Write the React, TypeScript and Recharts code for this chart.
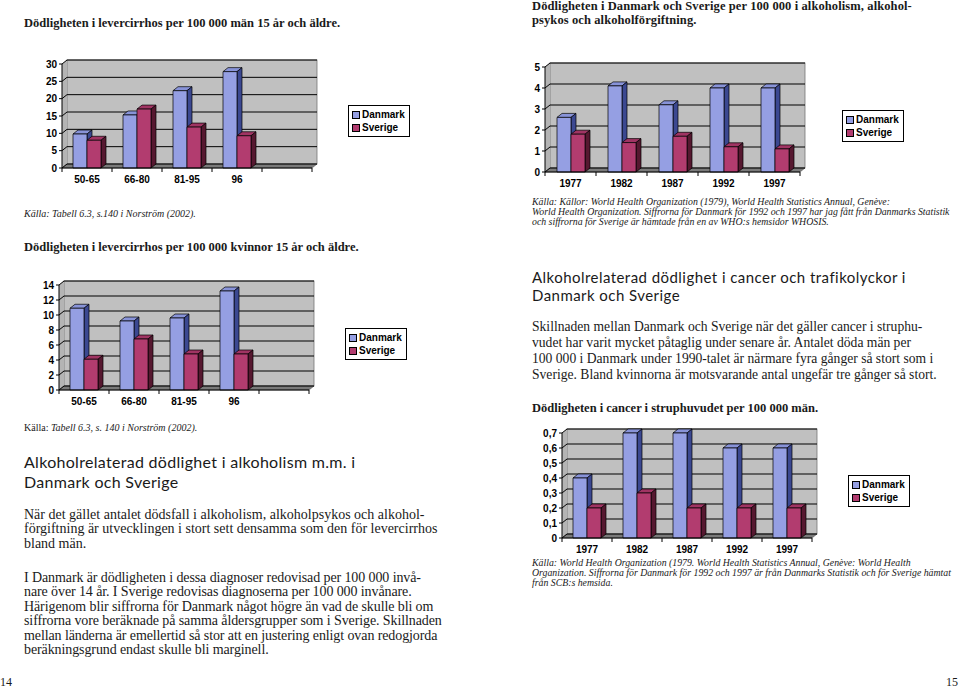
import React from 'react';
import { BarChart, Bar, XAxis, YAxis, ReferenceArea, Legend } from 'recharts';

// levercirrhos, män
const menCategories = ['50-65', '66-80', '81-95', '96', ''];
const menDanmark = [9.8, 15.3, 22.3, 27.8, null];
const menSverige = [8, 17, 11.8, 9.3, null];
const menTicks = [0, 5, 10, 15, 20, 25, 30];

// levercirrhos, kvinnor
const womenCategories = ['50-65', '66-80', '81-95', '96', ''];
const womenDanmark = [10.9, 9.2, 9.6, 13.2, null];
const womenSverige = [4.1, 6.8, 4.8, 4.8, null];
const womenTicks = [0, 2, 4, 6, 8, 10, 12, 14];

// alkoholism m.m.
const alcYears = ['1977', '1982', '1987', '1992', '1997'];
const alcDanmark = [2.6, 4.1, 3.2, 4.0, 4.0];
const alcSverige = [1.8, 1.4, 1.7, 1.2, 1.1];
const alcTicks = [0, 1, 2, 3, 4, 5];

// cancer i struphuvudet
const cancerYears = ['1977', '1982', '1987', '1992', '1997'];
const cancerDanmark = [0.4, 0.7, 0.7, 0.6, 0.6];
const cancerSverige = [0.2, 0.3, 0.2, 0.2, 0.2];
const cancerTicks = [0, 0.1, 0.2, 0.3, 0.4, 0.5, 0.6, 0.7];

const DX = 5;
const DY = 4;
const DK = { face: '#959fe3', top: '#8893d8', side: '#3b4891' };
const SE = { face: '#b23c6f', top: '#a03463', side: '#561830' };
const AXIS_FONT = { fontFamily: '"Liberation Sans", Arial, sans-serif', fontSize: 10, fontWeight: 700, fill: '#000' };

const Bar3D = (props: any) => {
  const { x, y, width, height, c } = props;
  if (height == null || !(height > 0)) return null;
  return (
    <g stroke="#000" strokeWidth={0.7} strokeLinejoin="round">
      <polygon points={`${x},${y} ${x + DX},${y - DY} ${x + width + DX},${y - DY} ${x + width},${y}`} fill={c.top} />
      <polygon points={`${x + width},${y} ${x + width + DX},${y - DY} ${x + width + DX},${y + height - DY} ${x + width},${y + height}`} fill={c.side} />
      <rect x={x} y={y} width={width} height={height} fill={c.face} />
    </g>
  );
};

const wallShape = (ticks: number[]) => (p: any) => {
  const { x, y, width: w, height: h } = p;
  const max = ticks[ticks.length - 1];
  return (
    <g>
      <rect x={x + DX} y={y - DY} width={w} height={h} fill="#c0c0c0" stroke="#777" strokeWidth={0.8} />
      <polygon points={`${x},${y} ${x + DX},${y - DY} ${x + DX},${y + h - DY} ${x},${y + h}`} fill="#b4b4b4" />
      <polygon points={`${x},${y + h} ${x + DX},${y + h - DY} ${x + w + DX},${y + h - DY} ${x + w},${y + h}`} fill="#7a7a7a" stroke="#555" strokeWidth={0.6} />
      {ticks.map((t) => {
        const yy = y + h * (1 - t / max);
        return (
          <polyline key={t} points={`${x},${yy} ${x + DX},${yy - DY} ${x + w + DX},${yy - DY}`} fill="none" stroke="#000" strokeWidth={1} />
        );
      })}
    </g>
  );
};

const CatTick = (props: any) => {
  const { x, y, payload, width, visibleTicksCount, index } = props;
  const band = width / visibleTicksCount;
  return (
    <g>
      <line x1={x - band / 2} y1={y} x2={x - band / 2} y2={y + 4} stroke="#000" />
      {index === visibleTicksCount - 1 && <line x1={x + band / 2} y1={y} x2={x + band / 2} y2={y + 4} stroke="#000" />}
      <text x={x} y={y + 15} textAnchor="middle" {...AXIS_FONT}>{payload.value}</text>
    </g>
  );
};

const LegendBox = () => (
  <div style={{ border: '1px solid #000', background: '#fff', padding: '2px 4px 2px 3px', fontFamily: '"Liberation Sans", Arial, sans-serif', fontSize: 10, fontWeight: 700, lineHeight: '13px', whiteSpace: 'nowrap' }}>
    {[['Danmark', DK.face], ['Sverige', SE.face]].map(([n, c]) => (
      <div key={n} style={{ display: 'flex', alignItems: 'center' }}>
        <span style={{ display: 'inline-block', width: 6, height: 6, border: '1px solid #000', background: c, marginRight: 2 }} />
        {n}
      </div>
    ))}
  </div>
);

type ChartProps = {
  categories: string[];
  danmark: (number | null)[];
  sverige: (number | null)[];
  ticks: number[];
  left: number;
  top: number;
  plotW: number;
  plotH: number;
  legendLeft: number;
  legendTop: number;
  comma?: boolean;
};

const Chart3D = ({ categories, danmark, sverige, ticks, left, top, plotW, plotH, legendLeft, legendTop, comma }: ChartProps) => {
  const ML = 40;
  const MT = 10;
  const XH = 25;
  const x0 = left - ML;
  const y0 = top - MT;
  const W = legendLeft - x0 + 70;
  const H = MT + plotH + XH;
  const data = categories.map((c, i) => ({ cat: c, Danmark: danmark[i], Sverige: sverige[i] }));
  const max = ticks[ticks.length - 1];
  return (
    <div style={{ position: 'absolute', left: x0, top: y0 }}>
      <BarChart width={W} height={H} data={data} margin={{ top: MT, left: 0, right: W - ML - plotW, bottom: 0 }} barGap={0} barSize={14}>
        <ReferenceArea y1={0} y2={max} ifOverflow="visible" shape={wallShape(ticks)} />
        <XAxis dataKey="cat" axisLine={{ stroke: '#000' }} tickLine={false} tickSize={0} tickMargin={0} height={XH} interval={0} tick={<CatTick />} />
        <YAxis domain={[0, max]} ticks={ticks} width={ML} axisLine={{ stroke: '#000' }} tickLine={{ stroke: '#000' }} tickSize={3} tickMargin={2} tick={AXIS_FONT} interval={0}
          tickFormatter={(v: number) => (comma ? String(v).replace('.', ',') : String(v))} />
        <Legend layout="vertical" align="center" verticalAlign="middle" content={<LegendBox />}
          wrapperStyle={{ left: legendLeft - x0, top: legendTop - y0, width: 'auto', height: 'auto' }} />
        <Bar dataKey="Danmark" fill={DK.face} isAnimationActive={false} shape={(p: any) => <Bar3D {...p} c={DK} />} />
        <Bar dataKey="Sverige" fill={SE.face} isAnimationActive={false} shape={(p: any) => <Bar3D {...p} c={SE} />} />
      </BarChart>
    </div>
  );
};

const serif = '"Liberation Serif", "Times New Roman", serif';
const sans = 'Lato, "Open Sans", sans-serif';

const Lines = ({ x, y, lh, size, lines, family = serif, weight = 400, italic = false, spacing = 0 }: any) => (
  <div style={{ position: 'absolute', left: x, top: y - lh / 2, fontFamily: family, fontSize: size, lineHeight: `${lh}px`, fontWeight: weight, fontStyle: italic ? 'italic' : 'normal', color: '#1a1a1a', whiteSpace: 'nowrap', letterSpacing: spacing }}>
    {lines.map((l: any, i: number) => <div key={i}>{l}</div>)}
  </div>
);

export default function App() {
  return (
    <div style={{ position: 'absolute', left: 0, top: 0, width: 960, height: 688, background: '#fff', overflow: 'hidden' }}>
      {/* left page */}
      <Lines x={24} y={23} lh={15} size={12.5} weight={700} lines={['Dödligheten i levercirrhos per 100 000 män 15 år och äldre.']} />
      <Chart3D categories={menCategories} danmark={menDanmark} sverige={menSverige} ticks={menTicks}
        left={62} top={64} plotW={250} plotH={104} legendLeft={348} legendTop={105} />
      <Lines x={24} y={214} lh={12} size={10} italic lines={['Källa: Tabell 6.3, s.140 i Norström (2002).']} />
      <Lines x={24} y={247} lh={15} size={12.5} weight={700} lines={['Dödligheten i levercirrhos per 100 000 kvinnor 15 år och äldre.']} />
      <Chart3D categories={womenCategories} danmark={womenDanmark} sverige={womenSverige} ticks={womenTicks}
        left={59} top={285} plotW={250} plotH={105} legendLeft={345} legendTop={328} />
      <Lines x={24} y={428} lh={12} size={10} lines={[<span key="k">Källa: <i>Tabell 6.3, s. 140 i Norström (2002).</i></span>]} />
      <Lines x={24} y={462} lh={20} size={16} spacing={0.3} family={sans} lines={['Alkoholrelaterad dödlighet i alkoholism m.m. i', 'Danmark och Sverige']} />
      <Lines x={24} y={515} lh={14.5} size={14} lines={[
        'När det gället antalet dödsfall i alkoholism, alkoholpsykos och alkohol-',
        'förgiftning är utvecklingen i stort sett densamma som den för levercirrhos',
        'bland män.',
      ]} />
      <Lines x={24} y={578} lh={14.5} size={14} spacing={-0.1} lines={[
        'I Danmark är dödligheten i dessa diagnoser redovisad per 100 000 invå-',
        'nare över 14 år. I Sverige redovisas diagnoserna per 100 000 invånare.',
        'Härigenom blir siffrorna för Danmark något högre än vad de skulle bli om',
        'siffrorna vore beräknade på samma åldersgrupper som i Sverige. Skillnaden',
        'mellan länderna är emellertid så stor att en justering enligt ovan redogjorda',
        'beräkningsgrund endast skulle bli marginell.',
      ]} />
      <Lines x={0} y={682} lh={14} size={12} lines={['14']} />

      {/* right page */}
      <Lines x={532} y={7} lh={13.5} size={12.5} weight={700} spacing={0.1} lines={[
        'Dödligheten i Danmark och Sverige per 100 000 i alkoholism, alkohol-',
        'psykos och alkoholförgiftning.',
      ]} />
      <Chart3D categories={alcYears} danmark={alcDanmark} sverige={alcSverige} ticks={alcTicks}
        left={545} top={67} plotW={255} plotH={105} legendLeft={842} legendTop={110} />
      <Lines x={532} y={202} lh={10.3} size={9.8} italic lines={[
        'Källa: Källor: World Health Organization (1979), World Health Statistics Annual, Genève:',
        'World Health Organization. Siffrorna för Danmark för 1992 och 1997 har jag fått från Danmarks Statistik',
        'och siffrorna för Sverige är hämtade från en av WHO:s hemsidor WHOSIS.',
      ]} />
      <Lines x={532} y={277} lh={18} size={15} spacing={0.45} family={sans} lines={['Alkoholrelaterad dödlighet i cancer och trafikolyckor i', 'Danmark och Sverige']} />
      <Lines x={532} y={327} lh={16} size={13.6} lines={[
        'Skillnaden mellan Danmark och Sverige när det gäller cancer i struphu-',
        'vudet har varit mycket påtaglig under senare år. Antalet döda män per',
        '100 000 i Danmark under 1990-talet är närmare fyra gånger så stort som i',
        'Sverige. Bland kvinnorna är motsvarande antal ungefär tre gånger så stort.',
      ]} />
      <Lines x={532} y={408} lh={15} size={12.5} weight={700} lines={['Dödligheten i cancer i struphuvudet per 100 000 män.']} />
      <Chart3D categories={cancerYears} danmark={cancerDanmark} sverige={cancerSverige} ticks={cancerTicks}
        left={562} top={433} plotW={250} plotH={105} legendLeft={848} legendTop={475} comma />
      <Lines x={532} y={563} lh={10.3} size={9.8} italic lines={[
        'Källa: World Health Organization (1979. World Health Statistics Annual, Genève: World Health',
        'Organization. Siffrorna för Danmark för 1992 och 1997 är från Danmarks Statistik och för Sverige hämtat',
        'från SCB:s hemsida.',
      ]} />
      <Lines x={946} y={682} lh={14} size={12} lines={['15']} />
    </div>
  );
}
